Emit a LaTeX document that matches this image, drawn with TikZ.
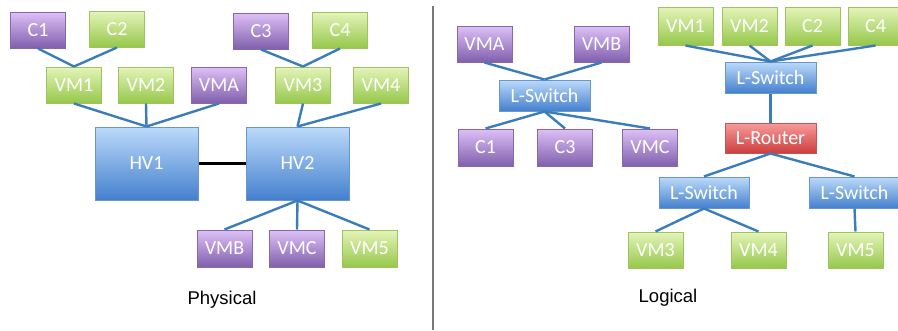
\documentclass[tikz,border=0pt]{standalone}
\usepackage{fontspec}
\setmainfont{Liberation Sans}
\newfontfamily\boxfont{Carlito}
\definecolor{greentop}{RGB}{228,244,185}
\definecolor{greenbot}{RGB}{150,200,75}
\definecolor{greenedge}{RGB}{160,195,95}
\definecolor{purpletop}{RGB}{222,192,247}
\definecolor{purplebot}{RGB}{128,95,172}
\definecolor{purpleedge}{RGB}{135,105,170}
\definecolor{bluetop}{RGB}{188,218,250}
\definecolor{bluebot}{RGB}{68,128,205}
\definecolor{blueedge}{RGB}{105,150,210}
\definecolor{redtop}{RGB}{247,155,155}
\definecolor{redbot}{RGB}{205,62,62}
\definecolor{rededge}{RGB}{195,85,85}
\definecolor{linkblue}{RGB}{58,125,185}
\definecolor{divider}{RGB}{120,120,120}
\begin{document}
\begin{tikzpicture}[x=1pt,y=-1pt,
  box/.style={draw, line width=1pt, inner sep=0pt, text=white,
    font=\boxfont\fontsize{20}{20}\selectfont},
  small/.style={box, minimum width=55pt, minimum height=36pt},
  wide/.style={box, minimum width=91pt, minimum height=31pt},
  hv/.style={box, minimum width=103pt, minimum height=73pt},
  vmg/.style={small, draw=greenedge, top color=greentop, bottom color=greenbot},
  vmp/.style={small, draw=purpleedge, top color=purpletop, bottom color=purplebot},
  bluefill/.style={draw=blueedge, top color=bluetop, bottom color=bluebot},
  redfill/.style={draw=rededge, top color=redtop, bottom color=redbot},
  link/.style={draw=linkblue, line width=2.4pt},
  caption/.style={font=\fontsize{18.5}{18.5}\selectfont, text=black}]
\useasboundingbox (0,0) rectangle (898,330);

% ---------- physical view ----------
\node[vmp] (pC1) at (38,30) {C1};
\node[vmg] (pC2) at (117,29) {C2};
\node[vmg] (pVM1) at (74,85) {VM1};
\node[vmg] (pVM2) at (146,85) {VM2};
\node[vmp] (pVMA) at (219,85) {VMA};
\node[vmp] (pC3) at (261,31) {C3};
\node[vmg] (pC4) at (340,30) {C4};
\node[vmg] (pVM3) at (303,85) {VM3};
\node[vmg] (pVM4) at (381,85) {VM4};
\node[hv, bluefill] (HV1) at (146.5,163.5) {HV1};
\node[hv, bluefill] (HV2) at (297.5,163.5) {HV2};
\node[vmp, minimum height=37pt] (pVMB) at (224.5,248.5) {VMB};
\node[vmp, minimum height=37pt] (pVMC) at (297,248.5) {VMC};
\node[vmg, minimum height=37pt] (pVM5) at (369.5,248.5) {VM5};

\draw[link] (pC1.south) -- (pVM1.north);
\draw[link] (pC2.south) -- (pVM1.north);
\draw[link] (pC3.south) -- (pVM3.north);
\draw[link] (pC4.south) -- (pVM3.north);
\draw[link] (pVM1.south) -- (HV1.north);
\draw[link] (pVM2.south) -- (HV1.north);
\draw[link] (pVMA.south) -- (HV1.north);
\draw[link] (pVM3.south) -- (HV2.north);
\draw[link] (pVM4.south) -- (HV2.north);
\draw[link] (HV2.south) -- (pVMB.north);
\draw[link] (HV2.south) -- (pVMC.north);
\draw[link] (HV2.south) -- (pVM5.north);
\draw[black, line width=2.6pt] (HV1.east) -- (HV2.west);

\node[caption] (phys) at (222,300) {Physical};

% ---------- divider ----------
\coordinate (divtop) at (433,6);
\coordinate (divbot) at (433,330);
\draw[divider, line width=2pt] (divtop) -- (divbot);

% ---------- logical view ----------
\node[vmp] (lVMA) at (484.5,44) {VMA};
\node[vmp] (lVMB) at (601.5,44) {VMB};
\node[wide, bluefill] (LS1) at (544.5,95.5) {L-Switch};
\node[vmp, minimum height=37pt] (lC1) at (485.5,147.5) {C1};
\node[vmp, minimum height=37pt] (lC3) at (565,147.5) {C3};
\node[vmp, minimum height=37pt] (lVMC) at (650,147.5) {VMC};

\node[vmg, minimum height=38pt] (lVM1) at (685.5,26) {VM1};
\node[vmg, minimum height=38pt] (lVM2) at (749.5,26) {VM2};
\node[vmg, minimum height=38pt] (lC2) at (812.5,26) {C2};
\node[vmg, minimum height=38pt] (lC4) at (875.5,26) {C4};
\node[wide, bluefill] (LS2) at (770.5,77.5) {L-Switch};
\node[wide, redfill, minimum height=30pt] (LR) at (770.5,138) {L-Router};
\node[wide, bluefill, minimum width=90pt] (LS3) at (704,192.5) {L-Switch};
\node[wide, bluefill, minimum width=90pt] (LS4) at (854.5,192.5) {L-Switch};
\node[vmg] (lVM3) at (655.5,250) {VM3};
\node[vmg] (lVM4) at (758.5,250) {VM4};
\node[vmg] (lVM5) at (855.5,250) {VM5};

\draw[link] (lVMA.south) -- (LS1.north);
\draw[link] (lVMB.south) -- (LS1.north);
\draw[link] (LS1.south) -- (lC1.north);
\draw[link] (LS1.south) -- (lC3.north);
\draw[link] (LS1.south) -- (lVMC.north);
\draw[link] (lVM1.south) -- (LS2.north);
\draw[link] (lVM2.south) -- (LS2.north);
\draw[link] (lC2.south) -- (LS2.north);
\draw[link] (lC4.south) -- (LS2.north);
\draw[link] (LS2.south) -- (LR.north);
\draw[link] (LR.south) -- (LS3.north);
\draw[link] (LR.south) -- (LS4.north);
\draw[link] (LS3.south) -- (lVM3.north);
\draw[link] (LS3.south) -- (lVM4.north);
\draw[link] (LS4.south) -- (lVM5.north);

\node[caption] (logi) at (668,298) {Logical};
\end{tikzpicture}
\end{document}
